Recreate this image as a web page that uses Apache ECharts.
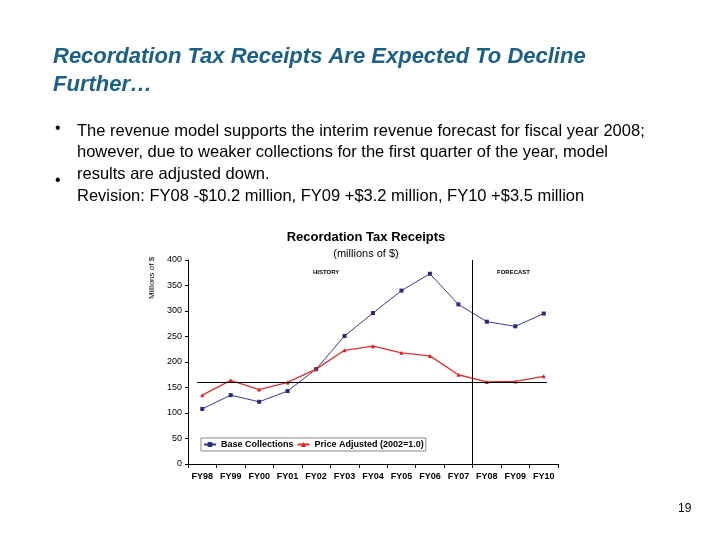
<!DOCTYPE html>
<html><head><meta charset="utf-8">
<script src="https://cdn.jsdelivr.net/npm/echarts@6/dist/echarts.min.js"></script>
<style>html,body{margin:0;padding:0;background:#fff;}#c{width:720px;height:540px;}</style>
</head><body><div id="c"></div>
<script>
const categories = ['FY98','FY99','FY00','FY01','FY02','FY03','FY04','FY05','FY06','FY07','FY08','FY09','FY10'];
const baseCollections = [108, 135, 122, 143, 186, 251, 296, 340, 373, 313, 279, 270, 295];
const priceAdjusted = [135, 164, 146, 160, 186, 223, 231, 218, 212, 175, 161, 162, 172];
const referenceLevel = 161;
const forecastStartIndex = 10;
const yTicks = [0, 50, 100, 150, 200, 250, 300, 350, 400];

const chart = echarts.init(document.getElementById('c'));
const ff = 'Liberation Sans, Arial, sans-serif';
chart.setOption({
  animation: false,
  backgroundColor: '#fff',
  textStyle: { fontFamily: ff },
  title: [
    { text: 'Recordation Tax Receipts Are Expected To Decline\nFurther…', left: 48, top: 38,
      textStyle: { fontFamily: ff, fontSize: 22, fontWeight: 'bold', fontStyle: 'italic', color: '#1b6087', lineHeight: 28 } },
    { text: 'Recordation Tax Receipts', left: 361, textAlign: 'center', top: 226,
      textStyle: { fontFamily: ff, fontSize: 13, fontWeight: 'bold', color: '#000' } },
    { text: '(millions of $)', left: 361, textAlign: 'center', top: 243,
      textStyle: { fontFamily: ff, fontSize: 11, fontWeight: 'normal', color: '#000' } },
    { text: '19', left: 673, top: 498, textStyle: { fontFamily: ff, fontSize: 12, fontWeight: 'normal', color: '#000' } }
  ],
  graphic: [
    { type: 'text', left: 55, top: 121, style: { text: '•', font: '16px ' + ff, fill: '#000' } },
    { type: 'text', left: 55, top: 173, style: { text: '•', font: '16px ' + ff, fill: '#000' } },
    { type: 'text', left: 77, top: 121, style: { text: 'The revenue model supports the interim revenue forecast for fiscal year 2008;\nhowever, due to weaker collections for the first quarter of the year, model\nresults are adjusted down.', font: '16.5px ' + ff, fill: '#000', lineHeight: 21.3 } },
    { type: 'text', left: 77, top: 188, style: { text: 'Revision: FY08 -$10.2 million, FY09 +$3.2 million, FY10 +$3.5 million', font: '16.5px ' + ff, fill: '#000' } },
    { type: 'text', x: 152, y: 278, rotation: Math.PI / 2, style: { text: 'Millions of $', font: '8px ' + ff, fill: '#000', textAlign: 'center', textVerticalAlign: 'middle' } },
    { type: 'text', left: 313, top: 269, style: { text: 'HISTORY', font: 'bold 6px ' + ff, fill: '#000' } },
    { type: 'text', left: 497, top: 269, style: { text: 'FORECAST', font: 'bold 6px ' + ff, fill: '#000' } }
  ],
  legend: {
    left: 201, top: 438, orient: 'horizontal',
    itemWidth: 12, itemHeight: 6, itemGap: 3,
    padding: [2, 2, 2, 2],
    borderColor: '#888', borderWidth: 1,
    textStyle: { fontFamily: ff, fontSize: 9, fontWeight: 'bold', color: '#000' },
    data: ['Base Collections', 'Price Adjusted (2002=1.0)']
  },
  grid: { left: 188, right: 162, top: 260, bottom: 76 },
  xAxis: [{
    type: 'category', data: categories, boundaryGap: true,
    axisLine: { show: true, lineStyle: { color: '#000', width: 1 } },
    axisTick: { show: true, length: 4, interval: 0, lineStyle: { color: '#000' } },
    axisLabel: { fontFamily: ff, fontSize: 9, fontWeight: 'bold', color: '#000', margin: 8, interval: 0 },
    splitLine: { show: false }
  }, {
    type: 'value', min: 0, max: categories.length, show: false, position: 'bottom'
  }],
  yAxis: {
    type: 'value', min: 0, max: 400, interval: 50,
    axisLine: { show: true, lineStyle: { color: '#000', width: 1 } },
    axisTick: { show: true, length: 3, lineStyle: { color: '#000' } },
    axisLabel: { fontFamily: ff, fontSize: 9, color: '#000', margin: 6,
      formatter: function (v) { return yTicks.indexOf(v) >= 0 ? String(v) : ''; } },
    splitLine: { show: false }
  },
  series: [
    { name: 'Base Collections', type: 'line', data: baseCollections,
      symbol: 'rect', symbolSize: 4, showAllSymbol: true,
      itemStyle: { color: '#2a2a80' }, lineStyle: { color: '#3a3a90', width: 1 },
      markLine: { silent: true, symbol: 'none', label: { show: false },
        lineStyle: { color: '#000', width: 1, type: 'solid' },
        data: [[{ coord: [categories[0], referenceLevel], x: 197 }, { coord: [categories[categories.length - 1], referenceLevel], x: 547 }]] } },
    { name: 'Price Adjusted (2002=1.0)', type: 'line', data: priceAdjusted,
      symbol: 'triangle', symbolSize: 4, showAllSymbol: true,
      itemStyle: { color: '#d81e1e' }, lineStyle: { color: '#e03030', width: 1.3 } },
    { name: 'divider', type: 'line', xAxisIndex: 1, yAxisIndex: 0, data: [], silent: true,
      markLine: { silent: true, symbol: 'none', label: { show: false },
        lineStyle: { color: '#000', width: 1, type: 'solid' },
        data: [{ xAxis: forecastStartIndex }] } }
  ]
});
</script></body></html>
